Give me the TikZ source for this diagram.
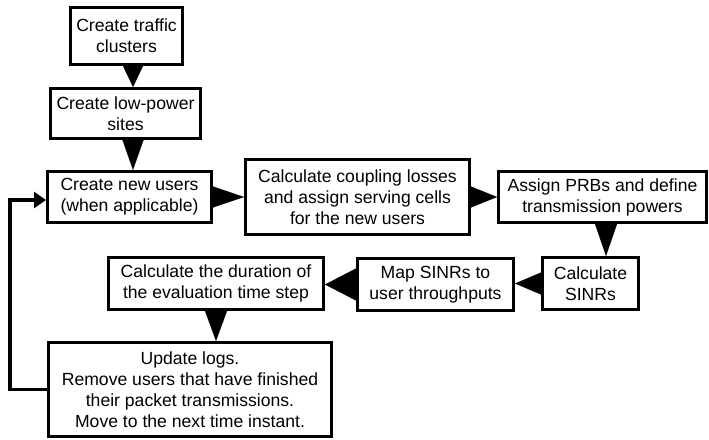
\documentclass[tikz,border=0pt]{standalone}
\usepackage{fontspec}
\setmainfont{Liberation Sans}
\usetikzlibrary{arrows.meta}
\begin{document}
\begin{tikzpicture}[x=1pt,y=-1pt,
  box/.style={draw, line width=3pt, rectangle, align=center, inner sep=0pt,
    font=\fontsize{17.6}{21}\selectfont},
  flow/.style n args={2}{-{Triangle[length=#1pt,width=#2pt]}, line width=0.1pt},
  back/.style={line width=3.2pt, line join=miter, -{Triangle[length=12pt,width=16pt]}}]
\useasboundingbox (0,0) rectangle (709,439);

% process steps
\node[box, minimum width=112pt, minimum height=57pt] (b1) at (126.5,36)
  {Create traffic\\clusters};
\node[box, minimum width=150pt, minimum height=50pt] (b2) at (125.5,113.5)
  {Create low-power\\sites};
\node[box, minimum width=164pt, minimum height=51pt] (b3) at (129.5,197)
  {Create new users\\(when applicable)};
\node[box, minimum width=224pt, minimum height=75pt] (b4) at (357.5,197)
  {Calculate coupling losses\\and assign serving cells\\for the new users};
\node[box, minimum width=208pt, minimum height=51pt] (b5) at (602.5,197)
  {Assign PRBs and define\\transmission powers};
\node[box, minimum width=96pt, minimum height=52pt] (b6) at (590.5,283.5)
  {Calculate\\SINRs};
\node[box, minimum width=156pt, minimum height=52pt] (b7) at (435.5,284.5)
  {Map SINRs to\\user throughputs};
\node[box, minimum width=215pt, minimum height=52pt] (b8) at (216,283.5)
  {Calculate the duration of\\the evaluation time step};
\node[box, minimum width=283pt, minimum height=94pt] (b9) at (190,389.5)
  {Update logs.\\Remove users that have finished\\their packet transmissions.\\Move to the next time instant.};

% flow between steps
\draw[flow={21}{20}] ([xshift=6.5pt]b1.south) -- ([xshift=6.5pt]b1.south |- b2.north);
\draw[flow={30}{21}] ([xshift=7.5pt]b2.south) -- ([xshift=7.5pt]b2.south |- b3.north);
\draw[flow={31}{21}] (b3.east) -- (b4.west);
\draw[flow={26}{21}] (b4.east) -- (b5.west);
\draw[flow={32}{22}] ([xshift=3.5pt]b5.south) -- ([xshift=3.5pt]b5.south |- b6.north);
\draw[flow={26}{22}] (b6.west) -- (b6.west -| b7.east);
\draw[flow={31}{32}] (b7.west) -- (b7.west -| b8.east);
\draw[flow={30}{22}] (b8.south) -- (b8.south |- b9.north);

% loop back to the next time instant
\coordinate (lc) at (10,0);
\draw[back] (b9.west) -- (b9.west -| lc) |- ([yshift=-3pt]b3.west);
\end{tikzpicture}
\end{document}
